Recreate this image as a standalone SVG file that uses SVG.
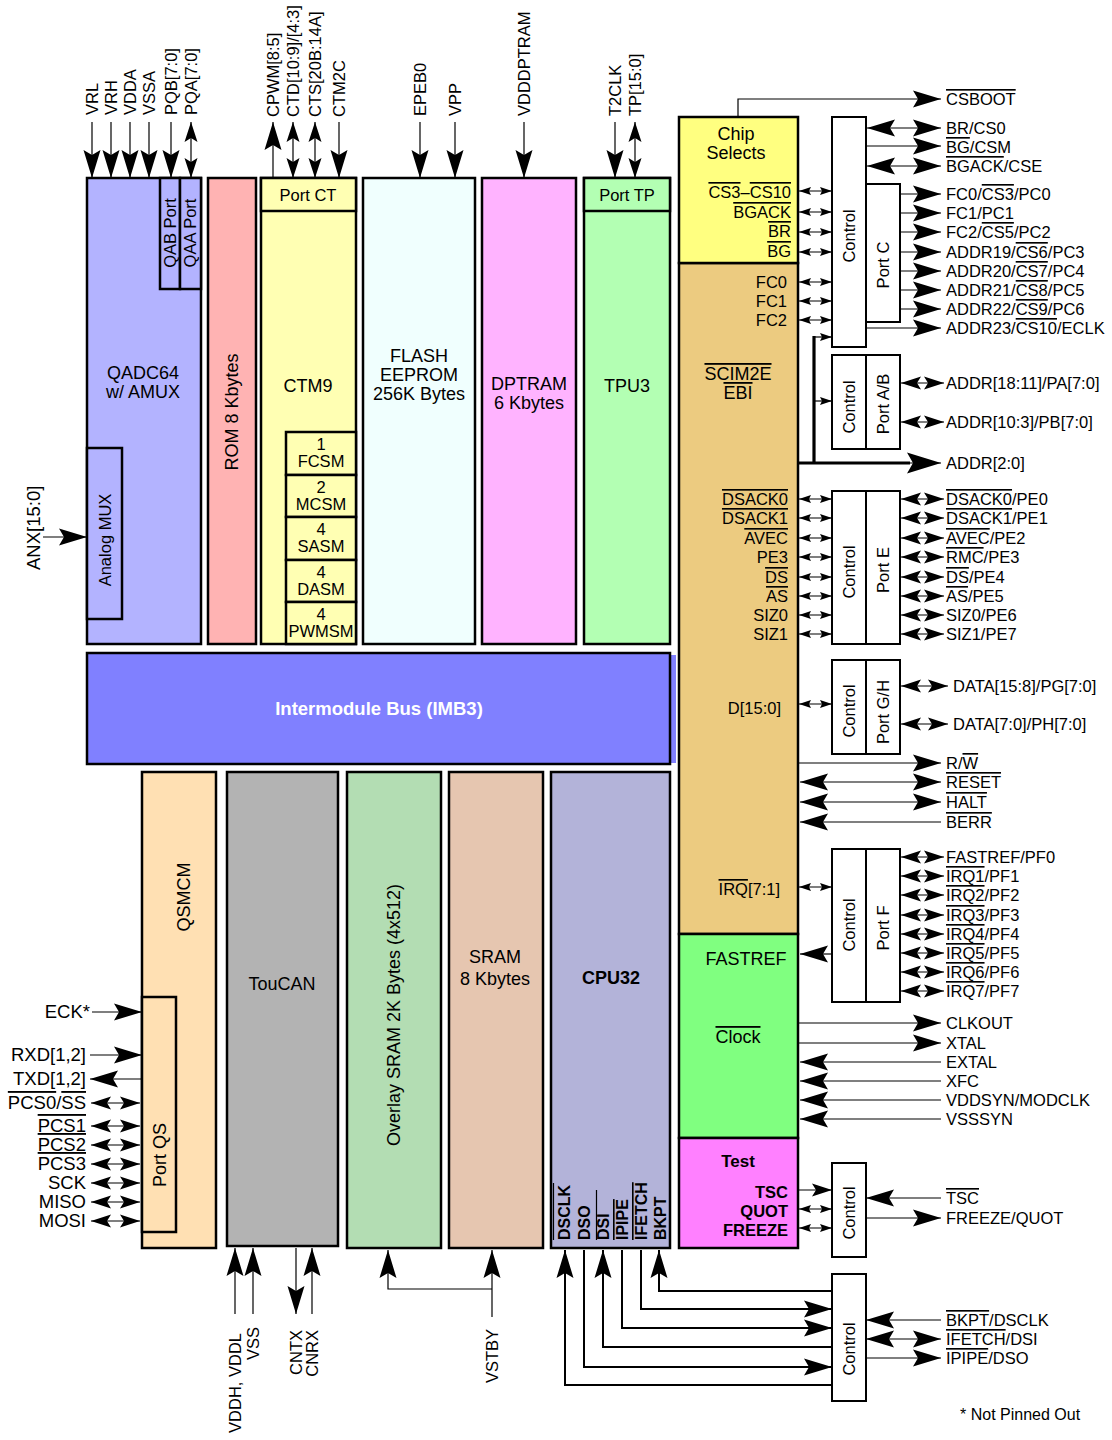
<svg xmlns="http://www.w3.org/2000/svg" width="1112" height="1440" viewBox="0 0 1112 1440">
<style>
.b{stroke:#000;stroke-width:2.5}
.w{fill:#fff;stroke:#000;stroke-width:2}
text{font-family:"Liberation Sans",Arial,sans-serif;font-size:16.5px;fill:#000}
.L{font-size:18px}
.lf{font-size:18.5px}
.bd{font-weight:bold}
.m{text-anchor:middle}
.e{text-anchor:end}
.ov{text-decoration:overline}
.c{stroke:#000;stroke-width:1.2;fill:none}
.c2{stroke:#000;stroke-width:2;fill:none}
.k{stroke:#000;stroke-width:3.2;fill:none}
.ab{marker-end:url(#aB)}
.abb{marker-start:url(#aB);marker-end:url(#aB)}
.am{marker-end:url(#aM)}
.amm{marker-start:url(#aM);marker-end:url(#aM)}
.as{marker-start:url(#aS);marker-end:url(#aS)}
.as1{marker-end:url(#aS)}
</style>
<defs>
<marker id="aB" markerUnits="userSpaceOnUse" markerWidth="30" markerHeight="18" refX="28" refY="8.5" orient="auto-start-reverse" overflow="visible"><path d="M0,0 L28,8.5 L0,17 L5,8.5 Z" fill="#000"/></marker>
<marker id="aM" markerUnits="userSpaceOnUse" markerWidth="22" markerHeight="14" refX="20" refY="6.5" orient="auto-start-reverse" overflow="visible"><path d="M0,0 L20,6.5 L0,13 L4,6.5 Z" fill="#000"/></marker>
<marker id="aS" markerUnits="userSpaceOnUse" markerWidth="13" markerHeight="9" refX="12" refY="4" orient="auto-start-reverse" overflow="visible"><path d="M0,0 L12,4 L0,8 L2,4 Z" fill="#000"/></marker>
<marker id="aW" markerUnits="userSpaceOnUse" markerWidth="36" markerHeight="22" refX="34" refY="10.5" orient="auto" overflow="visible"><path d="M0,0 L34,10.5 L0,21 L6,10.5 Z" fill="#000"/></marker>
</defs>

<!-- top modules -->
<g id="qadc64">
<rect x="87" y="178" width="114" height="466" fill="#b3b3ff" class="b"/>
<rect x="160" y="178" width="20" height="111" fill="#b3b3ff" class="b"/>
<rect x="180" y="178" width="21" height="111" fill="#b3b3ff" class="b"/>
<rect x="87" y="448" width="35" height="171" fill="#b3b3ff" class="b"/>
<text class="m" transform="translate(176,233) rotate(-90)">QAB Port</text>
<text class="m" transform="translate(196,233) rotate(-90)">QAA Port</text>
<text class="m" transform="translate(111,540) rotate(-90)">Analog MUX</text>
<text class="m L" x="143" y="379">QADC64</text>
<text class="m L" x="143" y="398">w/ AMUX</text>
</g>
<g id="rom">
<rect x="208" y="178" width="48" height="466" fill="#ffb3b3" class="b"/>
<text class="m L" transform="translate(238,412) rotate(-90)">ROM 8 Kbytes</text>
</g>
<g id="ctm9">
<rect x="261" y="178" width="95" height="466" fill="#ffffb3" class="b"/>
<rect x="261" y="178" width="95" height="33" fill="#ffffb3" class="b"/>
<text class="m" x="308" y="201">Port CT</text>
<text class="m L" x="308" y="392">CTM9</text>
<rect x="286" y="432" width="70" height="43" fill="#ffffb3" class="b"/>
<rect x="286" y="475" width="70" height="42" fill="#ffffb3" class="b"/>
<rect x="286" y="517" width="70" height="43" fill="#ffffb3" class="b"/>
<rect x="286" y="560" width="70" height="42" fill="#ffffb3" class="b"/>
<rect x="286" y="602" width="70" height="42" fill="#ffffb3" class="b"/>
<text class="m" x="321" y="450">1</text><text class="m" x="321" y="467">FCSM</text>
<text class="m" x="321" y="493">2</text><text class="m" x="321" y="510">MCSM</text>
<text class="m" x="321" y="535">4</text><text class="m" x="321" y="552">SASM</text>
<text class="m" x="321" y="578">4</text><text class="m" x="321" y="595">DASM</text>
<text class="m" x="321" y="620">4</text><text class="m" x="321" y="637">PWMSM</text>
</g>
<g id="flash">
<rect x="363" y="178" width="112" height="466" fill="#f0fffe" class="b"/>
<text class="m L" x="419" y="362">FLASH</text>
<text class="m L" x="419" y="381">EEPROM</text>
<text class="m L" x="419" y="400">256K Bytes</text>
</g>
<g id="dptram">
<rect x="482" y="178" width="94" height="466" fill="#ffb3ff" class="b"/>
<text class="m L" x="529" y="390">DPTRAM</text>
<text class="m L" x="529" y="409">6 Kbytes</text>
</g>
<g id="tpu3">
<rect x="584" y="178" width="86" height="466" fill="#b3ffb3" class="b"/>
<rect x="584" y="178" width="86" height="33" fill="#b3ffb3" class="b"/>
<text class="m" x="627" y="201">Port TP</text>
<text class="m L" x="627" y="392">TPU3</text>
</g>
<g id="imb">
<rect x="90" y="655" width="586" height="108" fill="#8080ff"/>
<rect x="87" y="653" width="583" height="111" fill="#8080ff" class="b"/>
<text class="m bd" x="379" y="715" style="fill:#fff;font-size:18.5px">Intermodule Bus (IMB3)</text>
</g>

<!-- SCIM2E -->
<g id="scim">
<rect x="679" y="263" width="119" height="671" fill="#eccb80" class="b"/>
<rect x="679" y="117" width="119" height="146" fill="#ffff80" class="b"/>
<rect x="679" y="934" width="119" height="204" fill="#80ff80" class="b"/>
<rect x="679" y="1138" width="119" height="110" fill="#ff80ff" class="b"/>
<text class="m L" x="736" y="140">Chip</text>
<text class="m L" x="736" y="159">Selects</text>
<text class="e" x="791" y="198"><tspan class="ov">CS3</tspan>–<tspan class="ov">CS10</tspan></text>
<text class="e ov" x="791" y="218">BGACK</text>
<text class="e ov" x="791" y="237">BR</text>
<text class="e ov" x="791" y="257">BG</text>
<text class="e" x="787" y="288">FC0</text>
<text class="e" x="787" y="307">FC1</text>
<text class="e" x="787" y="326">FC2</text>
<text class="m L ov" x="738" y="380">SCIM2E</text>
<text class="m L ov" x="738" y="399">EBI</text>
<text class="e ov" x="788" y="505">DSACK0</text>
<text class="e ov" x="788" y="524">DSACK1</text>
<text class="e ov" x="788" y="544">AVEC</text>
<text class="e" x="788" y="563">PE3</text>
<text class="e ov" x="788" y="583">DS</text>
<text class="e ov" x="788" y="602">AS</text>
<text class="e" x="788" y="621">SIZ0</text>
<text class="e" x="788" y="640">SIZ1</text>
<text class="e" x="781" y="714">D[15:0]</text>
<text class="e" x="780" y="895"><tspan class="ov">IRQ</tspan>[7:1]</text>
<text class="m L" x="746" y="965">FASTREF</text>
<text class="m L ov" x="738" y="1043">Clock</text>
<text class="m bd" x="738" y="1167" style="font-size:17px">Test</text>
<text class="e bd" x="788" y="1198">TSC</text>
<text class="e bd" x="788" y="1217">QUOT</text>
<text class="e bd" x="788" y="1236">FREEZE</text>
</g>

<!-- control / port boxes -->
<g id="portc">
<rect x="832" y="117" width="34" height="230" class="w"/>
<rect x="866" y="184" width="34" height="138" class="w"/>
<text class="m" transform="translate(855,236) rotate(-90)">Control</text>
<text class="m" transform="translate(889,265) rotate(-90)">Port C</text>
</g>
<g id="portab">
<rect x="832" y="355" width="34" height="94" class="w"/>
<rect x="866" y="355" width="34" height="94" class="w"/>
<text class="m" transform="translate(855,407) rotate(-90)">Control</text>
<text class="m" transform="translate(889,404) rotate(-90)">Port A/B</text>
</g>
<g id="porte">
<rect x="832" y="491" width="34" height="153" class="w"/>
<rect x="866" y="491" width="34" height="153" class="w"/>
<text class="m" transform="translate(855,572) rotate(-90)">Control</text>
<text class="m" transform="translate(889,570) rotate(-90)">Port E</text>
</g>
<g id="portgh">
<rect x="832" y="660" width="34" height="94" class="w"/>
<rect x="866" y="660" width="34" height="94" class="w"/>
<text class="m" transform="translate(855,711) rotate(-90)">Control</text>
<text class="m" transform="translate(889,712) rotate(-90)">Port G/H</text>
</g>
<g id="portf">
<rect x="832" y="849" width="34" height="153" class="w"/>
<rect x="866" y="849" width="34" height="153" class="w"/>
<text class="m" transform="translate(855,925) rotate(-90)">Control</text>
<text class="m" transform="translate(889,928) rotate(-90)">Port F</text>
</g>
<g id="testctl">
<rect x="832" y="1163" width="34" height="94" class="w"/>
<text class="m" transform="translate(855,1213) rotate(-90)">Control</text>
</g>
<g id="dbgctl">
<rect x="832" y="1274" width="34" height="127" class="w"/>
<text class="m" transform="translate(855,1349) rotate(-90)">Control</text>
</g>

<!-- bottom modules -->
<g id="qsmcm">
<rect x="142" y="772" width="74" height="476" fill="#ffe0b3" class="b"/>
<rect x="142" y="997" width="34" height="235" fill="#ffe0b3" class="b"/>
<text class="m L" transform="translate(189.5,897) rotate(-90)">QSMCM</text>
<text class="m L" transform="translate(165.5,1155) rotate(-90)">Port QS</text>
</g>
<g id="toucan">
<rect x="227" y="772" width="111" height="474" fill="#b3b3b3" class="b"/>
<text class="m L" x="282" y="990">TouCAN</text>
</g>
<g id="overlay">
<rect x="347" y="772" width="94" height="476" fill="#b3ddb3" class="b"/>
<text class="m L" transform="translate(399.5,1015) rotate(-90)">Overlay SRAM 2K Bytes (4x512)</text>
</g>
<g id="sram">
<rect x="449" y="772" width="94" height="476" fill="#e6c6b0" class="b"/>
<text class="m L" x="495" y="963">SRAM</text>
<text class="m L" x="495" y="985">8 Kbytes</text>
</g>
<g id="cpu32">
<rect x="551" y="772" width="119" height="476" fill="#b3b3d9" class="b"/>
<text class="m L bd" x="611" y="984">CPU32</text>
<text class="bd" style="font-size:16px" transform="translate(570,1240) rotate(-90)">DSCLK</text>
<text class="bd" style="font-size:16px" transform="translate(590,1240) rotate(-90)">DSO</text>
<text class="bd" style="font-size:16px" transform="translate(609,1240) rotate(-90)">DSI</text>
<text class="bd ov" style="font-size:16px" transform="translate(628,1240) rotate(-90)">IPIPE</text>
<text class="bd ov" style="font-size:16px" transform="translate(647,1240) rotate(-90)">IFETCH</text>
<text class="bd" style="font-size:16px" transform="translate(666,1240) rotate(-90)">BKPT</text>
<path d="M553.5,1183 V1240 M596.5,1190 V1240" class="c"/>
</g>

<!-- connectors -->
<g id="connectors">
<!-- top -->
<path d="M92,122 V178" class="c ab"/>
<path d="M111,122 V178" class="c ab"/>
<path d="M130,122 V178" class="c ab"/>
<path d="M149,122 V178" class="c ab"/>
<path d="M171,122 V178" class="c ab"/>
<path d="M191,122 V178" class="c amm"/>
<path d="M273,178 V122" class="c ab"/>
<path d="M293,122 V178" class="c amm"/>
<path d="M315,122 V178" class="c amm"/>
<path d="M339,122 V178" class="c ab"/>
<path d="M420,122 V178" class="c ab"/>
<path d="M455,122 V178" class="c ab"/>
<path d="M524,122 V178" class="c ab"/>
<path d="M615,122 V178" class="c ab"/>
<path d="M635,122 V178" class="c amm"/>
<!-- left -->
<path d="M43,537 H87" class="c ab"/>
<path d="M92,1012 H142" class="c ab"/>
<path d="M90,1055 H142" class="c ab"/>
<path d="M142,1079 H90" class="c ab"/>
<path d="M91,1103 H140" class="c amm"/>
<path d="M91,1126 H140" class="c amm"/>
<path d="M91,1145 H140" class="c amm"/>
<path d="M91,1164 H140" class="c amm"/>
<path d="M91,1183 H140" class="c amm"/>
<path d="M91,1202 H140" class="c amm"/>
<path d="M91,1221 H140" class="c amm"/>
<!-- bottom -->
<path d="M235,1314 V1248" class="c ab"/>
<path d="M253,1314 V1248" class="c ab"/>
<path d="M296,1248 V1314" class="c ab"/>
<path d="M312,1314 V1248" class="c ab"/>
<path d="M492,1317 V1250" class="c ab"/>
<path d="M492,1289 H388 V1250" class="c ab"/>
<!-- CPU32 debug -->
<path d="M832,1385 H565 V1250" class="c2 ab"/>
<path d="M584,1250 V1367 H832" class="c2 ab"/>
<path d="M832,1347 H603 V1250" class="c2 ab"/>
<path d="M622,1250 V1328 H832" class="c2 ab"/>
<path d="M641,1250 V1309 H832" class="c2 ab"/>
<path d="M832,1291 H659 V1250" class="c2 ab"/>
<path d="M941,1320 H866" class="c ab"/>
<path d="M866,1339 H941" class="c abb"/>
<path d="M866,1358 H941" class="c ab"/>
<!-- test -->
<path d="M798,1190 H832" class="c am"/>
<path d="M799,1209 H832" class="c as"/>
<path d="M799,1228 H832" class="c as"/>
<path d="M941,1198 H866" class="c ab"/>
<path d="M866,1218 H941" class="c ab"/>
<!-- clock -->
<path d="M798,1023 H941" class="c ab"/>
<path d="M798,1043 H941" class="c ab"/>
<path d="M941,1062 H800" class="c ab"/>
<path d="M941,1081 H800" class="c ab"/>
<path d="M941,1100 H800" class="c ab"/>
<path d="M941,1119 H800" class="c ab"/>
<!-- port F -->
<path d="M832,954 H800" class="c ab"/>
<path d="M799,887 H832" class="c as"/>
<path d="M901,857 H944" class="c amm"/>
<path d="M901,876 H944" class="c amm"/>
<path d="M901,895 H944" class="c amm"/>
<path d="M901,915 H944" class="c amm"/>
<path d="M901,934 H944" class="c amm"/>
<path d="M901,953 H944" class="c amm"/>
<path d="M901,972 H944" class="c amm"/>
<path d="M901,991 H944" class="c amm"/>
<!-- bus control -->
<path d="M798,763 H941" class="c ab"/>
<path d="M800,782 H941" class="c abb"/>
<path d="M800,802 H941" class="c abb"/>
<path d="M941,822 H800" class="c ab"/>
<!-- port G/H -->
<path d="M799,704 H832" class="c as"/>
<path d="M901,686 H948" class="c amm"/>
<path d="M901,724 H948" class="c amm"/>
<!-- port E -->
<path d="M799,499 H832" class="c as"/>
<path d="M799,518 H832" class="c as"/>
<path d="M799,538 H832" class="c as"/>
<path d="M799,557 H832" class="c as"/>
<path d="M799,577 H832" class="c as"/>
<path d="M799,596 H832" class="c as"/>
<path d="M799,615 H832" class="c as"/>
<path d="M799,634 H832" class="c as"/>
<path d="M901,499 H944" class="c amm"/>
<path d="M901,518 H944" class="c amm"/>
<path d="M901,538 H944" class="c amm"/>
<path d="M901,557 H944" class="c amm"/>
<path d="M901,577 H944" class="c amm"/>
<path d="M901,596 H944" class="c amm"/>
<path d="M901,615 H944" class="c amm"/>
<path d="M901,634 H944" class="c amm"/>
<!-- address -->
<path d="M799,463 H910" class="k"/>
<path d="M905,463 H941" class="c" style="marker-end:url(#aW)"/>
<path d="M814,336 V464" class="k"/>
<path d="M814,337 H832" class="c as1"/>
<path d="M814,401 H832" class="c as1"/>
<path d="M901,383 H944" class="c amm"/>
<path d="M901,422 H944" class="c amm"/>
<!-- chip selects -->
<path d="M799,191 H832" class="c as"/>
<path d="M799,212 H832" class="c as"/>
<path d="M799,232 H832" class="c as"/>
<path d="M799,252 H832" class="c as"/>
<path d="M799,282 H832" class="c as"/>
<path d="M799,301 H832" class="c as"/>
<path d="M799,320 H832" class="c as"/>
<path d="M738,117 V99 H941" class="c ab"/>
<path d="M867,128 H941" class="c abb"/>
<path d="M866,146 H941" class="c ab"/>
<path d="M867,166 H941" class="c abb"/>
<path d="M900,194 H941" class="c ab"/>
<path d="M900,213 H941" class="c ab"/>
<path d="M900,232 H941" class="c ab"/>
<path d="M900,252 H941" class="c ab"/>
<path d="M900,271 H941" class="c ab"/>
<path d="M900,290 H941" class="c ab"/>
<path d="M900,309 H941" class="c ab"/>
<path d="M866,328 H941" class="c ab"/>
</g>

<!-- pin labels -->
<g id="labels">
<text transform="translate(98,115) rotate(-90)">VRL</text>
<text transform="translate(117,115) rotate(-90)">VRH</text>
<text transform="translate(136,115) rotate(-90)">VDDA</text>
<text transform="translate(155,115) rotate(-90)">VSSA</text>
<text transform="translate(177,115) rotate(-90)">PQB[7:0]</text>
<text transform="translate(197,115) rotate(-90)">PQA[7:0]</text>
<text transform="translate(279,117) rotate(-90)">CPWM[8:5]</text>
<text transform="translate(299,117) rotate(-90)">CTD[10:9]/[4:3]</text>
<text transform="translate(321,117) rotate(-90)">CTS[20B:14A]</text>
<text transform="translate(345,117) rotate(-90)">CTM2C</text>
<text transform="translate(426,116) rotate(-90)">EPEB0</text>
<text transform="translate(461,116) rotate(-90)">VPP</text>
<text transform="translate(530,116) rotate(-90)">VDDDPTRAM</text>
<text transform="translate(621,116) rotate(-90)">T2CLK</text>
<text transform="translate(641,116) rotate(-90)">TP[15:0]</text>
<text class="lf" transform="translate(39.5,570) rotate(-90)">ANX[15:0]</text>
<text class="e lf" x="90" y="1018">ECK*</text>
<text class="e lf" x="86" y="1061">RXD[1,2]</text>
<text class="e lf" x="86" y="1085">TXD[1,2]</text>
<text class="e lf" x="86" y="1109"><tspan class="ov">PCS0</tspan>/<tspan class="ov">SS</tspan></text>
<text class="e lf ov" x="86" y="1132">PCS1</text>
<text class="e lf ov" x="86" y="1151">PCS2</text>
<text class="e lf ov" x="86" y="1170">PCS3</text>
<text class="e lf" x="86" y="1189">SCK</text>
<text class="e lf" x="86" y="1208">MISO</text>
<text class="e lf" x="86" y="1227">MOSI</text>
<text class="e" transform="translate(241,1333) rotate(-90)">VDDH, VDDL</text>
<text class="e" transform="translate(259,1327) rotate(-90)">VSS</text>
<text class="e" transform="translate(302,1330) rotate(-90)">CNTX</text>
<text class="e" transform="translate(318,1330) rotate(-90)">CNRX</text>
<text class="e" transform="translate(498,1329) rotate(-90)">VSTBY</text>
<text class="ov" x="946" y="105">CSBOOT</text>
<text x="946" y="134">BR/CS0</text>
<text x="946" y="153"><tspan class="ov">BG</tspan>/CSM</text>
<text x="946" y="172"><tspan class="ov">BGACK</tspan>/CSE</text>
<text x="946" y="200">FC0/<tspan class="ov">CS3</tspan>/PC0</text>
<text x="946" y="219">FC1/PC1</text>
<text x="946" y="238">FC2/<tspan class="ov">CS5</tspan>/PC2</text>
<text x="946" y="258">ADDR19/<tspan class="ov">CS6</tspan>/PC3</text>
<text x="946" y="277">ADDR20/<tspan class="ov">CS7</tspan>/PC4</text>
<text x="946" y="296">ADDR21/<tspan class="ov">CS8</tspan>/PC5</text>
<text x="946" y="315">ADDR22/<tspan class="ov">CS9</tspan>/PC6</text>
<text x="946" y="334">ADDR23/<tspan class="ov">CS10</tspan>/ECLK</text>
<text x="946" y="389">ADDR[18:11]/PA[7:0]</text>
<text x="946" y="428">ADDR[10:3]/PB[7:0]</text>
<text x="946" y="469">ADDR[2:0]</text>
<text x="946" y="505"><tspan class="ov">DSACK0</tspan>/PE0</text>
<text x="946" y="524"><tspan class="ov">DSACK1</tspan>/PE1</text>
<text x="946" y="544"><tspan class="ov">AVEC</tspan>/PE2</text>
<text x="946" y="563"><tspan class="ov">RMC</tspan>/PE3</text>
<text x="946" y="583"><tspan class="ov">DS</tspan>/PE4</text>
<text x="946" y="602"><tspan class="ov">AS</tspan>/PE5</text>
<text x="946" y="621">SIZ0/PE6</text>
<text x="946" y="640">SIZ1/PE7</text>
<text x="953" y="692">DATA[15:8]/PG[7:0]</text>
<text x="953" y="730">DATA[7:0]/PH[7:0]</text>
<text x="946" y="769">R/<tspan class="ov">W</tspan></text>
<text class="ov" x="946" y="788">RESET</text>
<text class="ov" x="946" y="808">HALT</text>
<text class="ov" x="946" y="828">BERR</text>
<text x="946" y="863">FASTREF/PF0</text>
<text x="946" y="882"><tspan class="ov">IRQ1</tspan>/PF1</text>
<text x="946" y="901"><tspan class="ov">IRQ2</tspan>/PF2</text>
<text x="946" y="921"><tspan class="ov">IRQ3</tspan>/PF3</text>
<text x="946" y="940"><tspan class="ov">IRQ4</tspan>/PF4</text>
<text x="946" y="959"><tspan class="ov">IRQ5</tspan>/PF5</text>
<text x="946" y="978"><tspan class="ov">IRQ6</tspan>/PF6</text>
<text x="946" y="997"><tspan class="ov">IRQ7</tspan>/PF7</text>
<text x="946" y="1029">CLKOUT</text>
<text x="946" y="1049">XTAL</text>
<text x="946" y="1068">EXTAL</text>
<text x="946" y="1087">XFC</text>
<text x="946" y="1106">VDDSYN/MODCLK</text>
<text x="946" y="1125">VSSSYN</text>
<text class="ov" x="946" y="1204">TSC</text>
<text x="946" y="1224">FREEZE/QUOT</text>
<text x="946" y="1326"><tspan class="ov">BKPT</tspan>/DSCLK</text>
<text x="946" y="1345"><tspan class="ov">IFETCH</tspan>/DSI</text>
<text x="946" y="1364"><tspan class="ov">IPIPE</tspan>/DSO</text>
<text x="960" y="1420" style="font-size:16px">* Not Pinned Out</text>
</g>
</svg>
